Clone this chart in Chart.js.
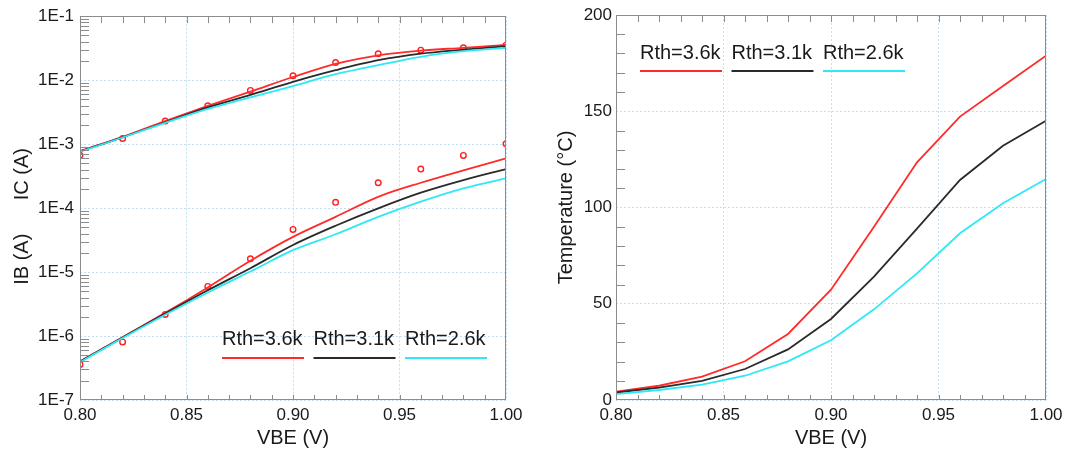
<!DOCTYPE html>
<html><head><meta charset="utf-8">
<script src="https://cdn.jsdelivr.net/npm/chart.js@4.4.1/dist/chart.umd.min.js"></script>
<style>
html,body{margin:0;padding:0;background:#fff;}
#wrapL{position:absolute;left:0;top:0;width:540px;height:452px;}
#wrapR{position:absolute;left:540px;top:0;width:546px;height:452px;}
</style></head>
<body>
<div id="wrapL"><canvas id="cL" width="540" height="452"></canvas></div>
<div id="wrapR"><canvas id="cR" width="546" height="452"></canvas></div>
<script>
// ---- data ----
const vbe = [0.80,0.82,0.84,0.86,0.88,0.90,0.92,0.94,0.96,0.98,1.00];
const icMeas = [6.7e-4,1.23e-3,2.3e-3,3.97e-3,6.9e-3,1.17e-2,1.89e-2,2.58e-2,2.94e-2,3.2e-2,3.52e-2];
const icR36 = [7.8e-4,1.3e-3,2.3e-3,3.95e-3,6.6e-3,1.12e-2,1.8e-2,2.45e-2,2.9e-2,3.2e-2,3.55e-2];
const icR31 = [7.7e-4,1.28e-3,2.2e-3,3.75e-3,5.9e-3,9.4e-3,1.43e-2,2.05e-2,2.6e-2,3.0e-2,3.4e-2];
const icR26 = [7.6e-4,1.27e-3,2.15e-3,3.55e-3,5.4e-3,8.1e-3,1.24e-2,1.72e-2,2.32e-2,2.84e-2,3.2e-2];
const ibMeas = [3.6e-7,8.1e-7,2.18e-6,5.97e-6,1.61e-5,4.64e-5,1.23e-4,2.49e-4,4.07e-4,6.65e-4,1.01e-3];
const ibR36 = [4.0e-7,9.6e-7,2.3e-6,5.75e-6,1.5e-5,3.55e-5,7.3e-5,1.5e-4,2.49e-4,3.9e-4,6.0e-4];
const ibR31 = [4.0e-7,9.5e-7,2.25e-6,5.2e-6,1.15e-5,2.65e-5,5.3e-5,9.9e-5,1.74e-4,2.74e-4,4.07e-4];
const ibR26 = [3.9e-7,9.3e-7,2.15e-6,4.8e-6,1.02e-5,2.2e-5,3.9e-5,7.3e-5,1.26e-4,2.03e-4,2.91e-4];
const tR36 = [4.3,7.4,12.1,20.1,34.3,57.3,90,123.5,147.2,163.1,178.9];
const tR31 = [3.9,6.4,9.9,16.1,26.3,42.1,64.1,89,114.3,132.1,145.1];
const tR26 = [3.1,5.2,8.0,12.6,20.1,31.0,47.1,65.8,86.6,102.2,114.8];
const seriesLabels = ['Rth=3.6k','Rth=3.1k','Rth=2.6k'];
const xTickValues = [0.80,0.85,0.90,0.95,1.00];
const xTickLabels = ['0.80','0.85','0.90','0.95','1.00'];
const logTickValues = [1e-7,1e-6,1e-5,1e-4,1e-3,1e-2,1e-1];
const logTickLabels = ['1E-7','1E-6','1E-5','1E-4','1E-3','1E-2','1E-1'];
const tempTickValues = [0,50,100,150,200];
const tempTickLabels = ['0','50','100','150','200'];

const COLORS = ['#ff2b2b','#2a2a2a','#2ee8f5'];
const FONT = "'Liberation Sans', Arial, Helvetica, sans-serif";
const GRID = '#c4dff2';
const FRAME = '#8c8c8c';

function pts(ys){ return vbe.map((x,i)=>({x:x,y:ys[i]})); }
function lineDs(label, ys, color, tension){
  return {label:label, data:pts(ys), borderColor:color, backgroundColor:color,
    borderWidth:1.8, pointRadius:0, tension:tension, cubicInterpolationMode: tension? 'monotone':'default', fill:false};
}
function measDs(label, ys){
  return {label:label, data:pts(ys), showLine:false, pointStyle:'circle', pointRadius:2.8,
    pointBorderWidth:1.4, pointBorderColor:'#ff2020', pointBackgroundColor:'rgba(0,0,0,0)', borderColor:'#ff2020'};
}

// frame, inner ticks and legend plugin
const decorPlugin = {
  id:'decor',
  afterDatasetsDraw(chart, args, o){
    const {ctx, chartArea:a} = chart;
    const xs = chart.scales.x, ys = chart.scales.y;
    ctx.save();
    ctx.strokeStyle = FRAME; ctx.lineWidth = 1;
    // x minor ticks (every 0.01)
    ctx.beginPath();
    for(let i=1;i<20;i++){
      const px = Math.round(xs.getPixelForValue(0.80 + i*0.01)) + 0.5;
      ctx.moveTo(px, a.top); ctx.lineTo(px, a.top + 7);
      ctx.moveTo(px, a.bottom); ctx.lineTo(px, a.bottom - 5);
    }
    // y minor ticks
    if(o.log){
      for(let d=-7; d<=-2; d++){
        for(let m=2;m<=9;m++){
          const py = Math.round(ys.getPixelForValue(m*Math.pow(10,d))) + 0.5;
          ctx.moveTo(a.left, py); ctx.lineTo(a.left + 9, py);
        }
      }
    } else {
      for(let v=10; v<200; v+=10){
        if(v%50===0) continue;
        const py = Math.round(ys.getPixelForValue(v)) + 0.5;
        ctx.moveTo(a.left, py); ctx.lineTo(a.left + 9, py);
      }
    }
    ctx.stroke();
    // frame
    ctx.strokeRect(Math.round(a.left)+0.5, Math.round(a.top)+0.5, Math.round(a.right-a.left)-1, Math.round(a.bottom-a.top)-1);
    // legend
    ctx.font = '20px ' + FONT;
    ctx.textBaseline = 'alphabetic';
    ctx.textAlign = 'left';
    for(let i=0;i<o.labels.length;i++){
      const lx = o.x + i*o.dx;
      ctx.fillStyle = '#1a1a1a';
      ctx.fillText(o.labels[i], lx, o.textY);
      ctx.strokeStyle = o.colors[i]; ctx.lineWidth = 2;
      ctx.beginPath(); ctx.moveTo(lx, o.lineY); ctx.lineTo(lx + o.len, o.lineY); ctx.stroke();
    }
    ctx.restore();
  }
};

function xScale(h){
  return {
    type:'linear', min:0.80, max:1.00,
    afterBuildTicks(s){ s.ticks = xTickValues.map(v=>({value:v})); },
    afterFit(s){ s.height = h; },
    ticks:{ callback:(v,i)=>xTickLabels[i], color:'#1a1a1a', font:{family:FONT,size:17}, padding:5, maxRotation:0, autoSkip:false },
    grid:{ color:GRID, lineWidth:1, drawTicks:false, borderDash:[2,2] },
    border:{ display:false, dash:[2,2] },
    title:{ display:true, text:'VBE (V)', color:'#1a1a1a', font:{family:FONT,size:20}, padding:{top:0,bottom:2} }
  };
}

// ---- left chart ----
new Chart(document.getElementById('cL'), {
  type:'line',
  data:{ datasets:[
    lineDs(seriesLabels[2], icR26, COLORS[2], 0.4),
    lineDs(seriesLabels[1], icR31, COLORS[1], 0.4),
    lineDs(seriesLabels[0], icR36, COLORS[0], 0.4),
    lineDs(seriesLabels[2], ibR26, COLORS[2], 0.4),
    lineDs(seriesLabels[1], ibR31, COLORS[1], 0.4),
    lineDs(seriesLabels[0], ibR36, COLORS[0], 0.4),
    measDs('IC meas', icMeas),
    measDs('IB meas', ibMeas)
  ]},
  options:{
    responsive:false, animation:false, devicePixelRatio:1,
    layout:{ padding:{left:0,right:34,top:16,bottom:0} },
    plugins:{ legend:{display:false}, tooltip:{enabled:false},
      decor:{ log:true, labels:seriesLabels, colors:COLORS, x:222, dx:91.5, len:82, textY:345, lineY:358 } },
    scales:{
      x: xScale(52),
      y:{
        type:'logarithmic', min:1e-7, max:1e-1,
        afterBuildTicks(s){ s.ticks = logTickValues.map(v=>({value:v})); },
        afterFit(s){ s.width = 80; },
        ticks:{ callback:(v,i)=>logTickLabels[i], color:'#1a1a1a', font:{family:FONT,size:17}, padding:6, autoSkip:false },
        grid:{ color:GRID, lineWidth:1, drawTicks:false, borderDash:[2,2] },
        border:{ display:false, dash:[2,2] },
        title:{ display:true, text:'IB (A)      IC (A)   ', color:'#1a1a1a', font:{family:FONT,size:20}, padding:{top:10,bottom:0} }
      }
    }
  },
  plugins:[decorPlugin]
});

// ---- right chart ----
new Chart(document.getElementById('cR'), {
  type:'line',
  data:{ datasets:[
    lineDs(seriesLabels[2], tR26, COLORS[2], 0),
    lineDs(seriesLabels[1], tR31, COLORS[1], 0),
    lineDs(seriesLabels[0], tR36, COLORS[0], 0)
  ]},
  options:{
    responsive:false, animation:false, devicePixelRatio:1,
    layout:{ padding:{left:0,right:40,top:15,bottom:0} },
    plugins:{ legend:{display:false}, tooltip:{enabled:false},
      decor:{ log:false, labels:seriesLabels, colors:COLORS, x:100, dx:91.5, len:82, textY:59, lineY:71 } },
    scales:{
      x: xScale(52),
      y:{
        type:'linear', min:0, max:200,
        afterBuildTicks(s){ s.ticks = tempTickValues.map(v=>({value:v})); },
        afterFit(s){ s.width = 76; },
        ticks:{ callback:(v,i)=>tempTickLabels[i], color:'#1a1a1a', font:{family:FONT,size:17}, padding:4, autoSkip:false },
        grid:{ color:GRID, lineWidth:1, drawTicks:false, borderDash:[2,2] },
        border:{ display:false, dash:[2,2] },
        title:{ display:true, text:'Temperature (°C)', color:'#1a1a1a', font:{family:FONT,size:20}, padding:{top:14,bottom:0} }
      }
    }
  },
  plugins:[decorPlugin]
});
</script>
</body></html>
